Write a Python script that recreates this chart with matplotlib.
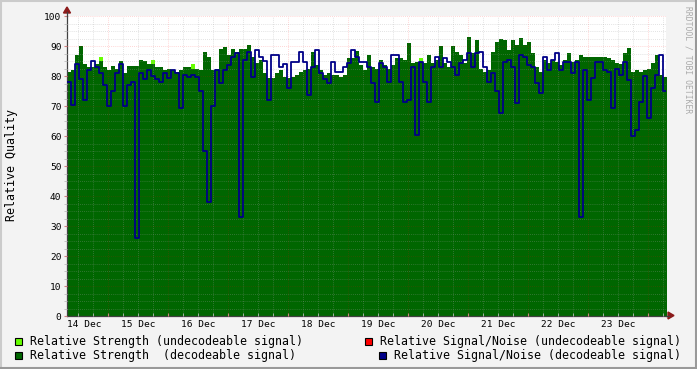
import matplotlib
matplotlib.use('Agg')
import matplotlib.pyplot as plt
import numpy as np
from matplotlib.patches import Rectangle, Polygon
from matplotlib.lines import Line2D

# sample spacing of the rrd (days), first sample = 14 Dec ~07:36
start_day = 19 / 60
step_day = 1 / 15

# Relative Strength (decodeable signal)
strength = [
    81.5, 82, 87, 90, 84, 83, 83, 84, 85, 83, 82, 83.5, 82.5, 85, 81, 83.3, 83.3, 83.3, 85.5, 85, 84, 84, 83, 83, 82,
    82.2, 82, 81.4, 82, 83.1, 83, 82.5, 82.5, 82, 88, 86.4, 82, 82.5, 89, 89.8, 87, 89, 88, 89, 89, 90.3, 86.4, 84.2, 85.3, 80.9,
    79.2, 79.2, 81, 82, 79.8, 79.2, 79.8, 80.3, 81.4, 82, 82.5, 88, 83.7, 82, 80.3, 81, 80.3, 80.3, 79.8, 80.3, 86, 85.9, 88.5, 83.7, 82,
    87, 83, 82.5, 85.5, 83.7, 82.5, 83.7, 86, 86, 85.3, 91, 84.2, 84.8, 84.8, 84.2, 87, 84.2, 85.3, 90, 84.2, 83.1, 90, 88, 87, 84.2,
    93, 87.6, 92, 82.5, 81.4, 82, 88, 91.4, 92.5, 92, 88.7, 92, 90.3, 92.6, 90.3, 91.4, 87.6, 83, 81.4, 85.3, 84.2, 85.3, 84.8, 83.7, 85.3,
    87.6, 84.8, 85.3, 87, 86.4, 86.4, 86.2, 86.2, 86.4, 86.4, 85.9, 85.3, 84.2, 84, 87.6, 89.2, 81.4, 82, 81.4, 82, 82.5, 84.2, 87, 80.3, 79.8,
]

# Relative Signal/Noise (decodeable signal)
snr = [
    78, 70.5, 84, 79, 72, 82, 85, 83, 81, 77, 70, 75, 81, 84, 70, 77, 78, 26, 81, 79, 82, 80, 79, 78, 81,
    79.2, 82, 81, 69.2, 80.3, 79.8, 80.3, 79.8, 75, 55, 38, 70, 82, 77.6, 82, 83.7, 86.4, 87.6, 33, 85.3, 88, 79.8, 88.7, 86.4, 85,
    72, 87, 87, 83, 84, 76, 84.8, 84.8, 88, 84.8, 73.7, 83, 88.7, 80.9, 79, 77.6, 84.8, 81.4, 81.4, 83, 84.2, 88.7, 86.4, 84.8, 84.8,
    83, 77.6, 71.4, 84.2, 83, 78, 87, 87, 78, 71.4, 72, 83, 60.3, 84.8, 78, 71.4, 83, 86.4, 83, 85.9, 84.8, 83, 80.3, 84.2, 85.3,
    87.6, 83, 87.6, 88, 83, 78, 81, 75, 67.6, 84.8, 85.3, 83, 70.9, 87, 86.4, 83.7, 83, 77.6, 74.2, 86.4, 82, 85.3, 87.6, 82, 84.8,
    84.8, 80.9, 84.8, 33, 82, 72, 79.2, 84.8, 84.8, 82, 81.4, 69.2, 82.5, 80.3, 84.8, 78.7, 60, 62, 71.4, 80, 66, 76, 80.3, 87, 75,
]

# few samples where the undecodeable strength pokes out above the green
undec_idx = [8, 21, 31, 88]
undec_val = [86.5, 85.5, 84, 86]

day_labels = ['14 Dec', '15 Dec', '16 Dec', '17 Dec', '18 Dec',
              '19 Dec', '20 Dec', '21 Dec', '22 Dec', '23 Dec']

legend_items = [
    ('Relative Strength (undecodeable signal)', '#66ff00', 15, 30, 341),
    ('Relative Strength  (decodeable signal)', '#006600', 15, 30, 355),
    ('Relative Signal/Noise (undecodeable signal)', '#ff0000', 365, 380, 341),
    ('Relative Signal/Noise (decodeable signal)', '#000088', 379, 394, 355),
]

W, H = 697, 369
MONO = 'DejaVu Sans Mono'


def fx(px):
    return px / W


def fy(py):
    return 1 - py / H


fig = plt.figure(figsize=(W / 100, H / 100), dpi=100, facecolor='#f3f3f3')
ax = fig.add_axes([fx(67), fy(316), fx(666) - fx(67), fy(16) - fy(316)])
ax.set_facecolor('white')

n = len(strength)
t = start_day + step_day * np.arange(n + 1)
g = np.append(strength, strength[-1])
b = np.append(snr, snr[-1])
u = np.array(g, dtype=float)
for i, v in zip(undec_idx, undec_val):
    u[i] = v

ax.fill_between(t, 0, u, step='post', color='#66ff00', lw=0, zorder=1)
ax.fill_between(t, 0, g, step='post', color='#006600', lw=0, zorder=2)
ax.step(t, b, where='post', color='#000088', lw=1.3, zorder=3)

ax.set_xlim(start_day, start_day + 599 / 60)
ax.set_ylim(0, 100)

ax.set_xticks(np.arange(1, 11))
ax.set_xticks(np.arange(0.5, 10.5, 0.25), minor=True)
ax.set_xticklabels([])
ax.set_yticks(np.arange(0, 101, 10))
ax.set_yticks(np.arange(0, 100.1, 2.5), minor=True)
ax.set_yticklabels([str(v) for v in range(0, 101, 10)], fontsize=6.8, family=MONO)

ax.set_axisbelow(False)
ax.grid(which='minor', color='#a0a0a0', alpha=0.4, ls=(0, (1, 1.5)), lw=0.6)
ax.grid(which='major', color='#ff0000', alpha=0.22, ls=(0, (1, 1.5)), lw=0.6)
ax.tick_params(which='major', length=2, color='#d08080', pad=2)
ax.tick_params(which='minor', length=2, color='#bbbbbb')
ax.tick_params(axis='x', which='both', direction='in')

for s in ['top', 'right']:
    ax.spines[s].set_visible(False)
for s in ['left', 'bottom']:
    ax.spines[s].set_color('#404040')
    ax.spines[s].set_linewidth(0.9)

# day labels, centered at noon (first one kept inside the axis)
trans = ax.get_xaxis_transform()
for k, lab in enumerate(day_labels):
    if k == 0:
        ax.text(start_day, -0.027, lab, transform=trans, ha='left', va='center',
                fontsize=6.8, family=MONO)
    else:
        ax.text(k + 0.5, -0.027, lab, transform=trans, ha='center', va='center',
                fontsize=6.8, family=MONO)

# axis extensions + arrows
arrow_c = '#8b1a1a'
fig.add_artist(Line2D([fx(666), fx(669)], [fy(316), fy(316)], color='#404040', lw=0.9))
fig.add_artist(Polygon([[fx(668), fy(312)], [fx(674), fy(315.5)], [fx(668), fy(319)]],
                       closed=True, color=arrow_c, transform=fig.transFigure))
fig.add_artist(Line2D([fx(67), fx(67)], [fy(16), fy(12)], color='#404040', lw=0.9))
fig.add_artist(Polygon([[fx(63.5), fy(13)], [fx(67), fy(7)], [fx(70.5), fy(13)]],
                       closed=True, color=arrow_c, transform=fig.transFigure))

fig.text(fx(12), fy(165), 'Relative Quality', rotation=90, ha='center', va='center',
         fontsize=8.4, family=MONO)
fig.text(fx(688), fy(60), 'RRDTOOL / TOBI OETIKER', rotation=270, ha='center', va='center',
         fontsize=5.8, family=MONO, color='#aaaaaa')

for label, col, sx, tx, ty in legend_items:
    fig.add_artist(Rectangle((fx(sx), fy(ty + 3.5)), 7 / W, 7 / H, facecolor=col,
                             edgecolor='black', lw=0.8, transform=fig.transFigure))
    fig.text(fx(tx), fy(ty), label, ha='left', va='center', fontsize=8.4, family=MONO)

# 3d-ish frame around the image
fig.add_artist(Line2D([0, 1], [fy(0.5), fy(0.5)], color='#cbcbcb', lw=1.5))
fig.add_artist(Line2D([fx(0.5), fx(0.5)], [0, 1], color='#cbcbcb', lw=1.5))
fig.add_artist(Line2D([0, 1], [fy(368), fy(368)], color='#999999', lw=1.5))
fig.add_artist(Line2D([fx(696), fx(696)], [0, 1], color='#999999', lw=1.5))

fig.savefig('out.png', dpi=100, facecolor=fig.get_facecolor())
